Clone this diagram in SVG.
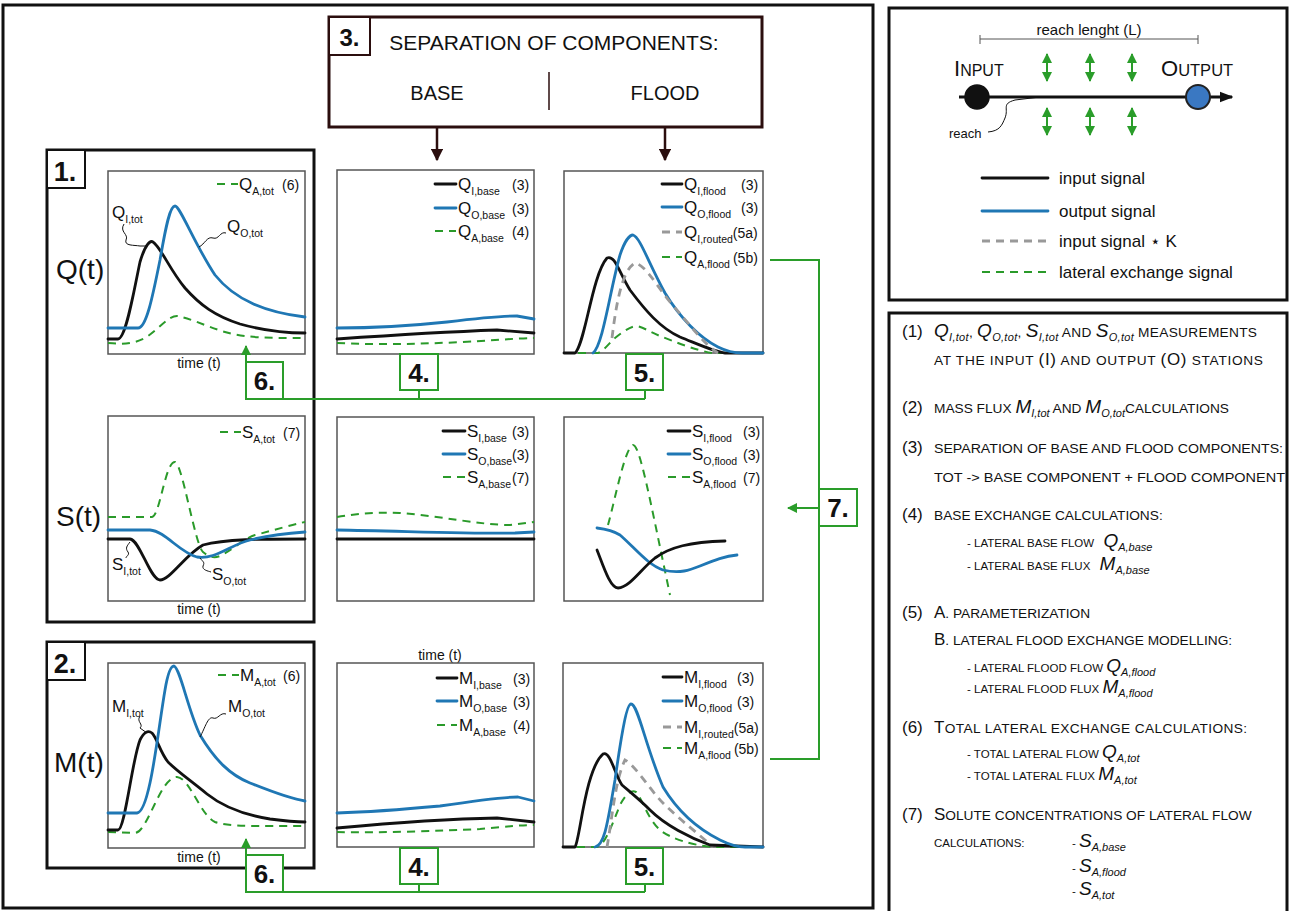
<svg xmlns="http://www.w3.org/2000/svg" width="1291" height="911" viewBox="0 0 1291 911">
<defs>
<style>
text{font-family:"Liberation Sans",Arial,sans-serif;fill:#111}
.frame{fill:none;stroke:#111;stroke-width:3}
.panel{fill:#fff;stroke:#555;stroke-width:1.5}
.blk{fill:none;stroke:#111;stroke-width:2.8;stroke-linecap:round;stroke-linejoin:round}
.blu{fill:none;stroke:#1f77b4;stroke-width:2.8;stroke-linecap:round;stroke-linejoin:round}
.grn{fill:none;stroke:#2a9a2a;stroke-width:2;stroke-dasharray:8,6}
.gry{fill:none;stroke:#999;stroke-width:2.8;stroke-dasharray:8,6}
.lead{fill:none;stroke:#111;stroke-width:1}
.gcon{fill:none;stroke:#2a9d2a;stroke-width:2}
.gbox{fill:#fff;stroke:#2a9d2a;stroke-width:2}
.num{font-weight:bold;font-size:26px;text-anchor:middle}
.lg{font-size:17px}
.sb{font-size:10.5px}
.pn{font-size:14px}
.ax{font-size:14px;text-anchor:middle}
.big{font-size:28px}
.rt{font-size:17px}
.sc{font-size:13.7px}
.ss{font-size:11.5px}
.it{font-style:italic;font-size:19px}
.its{font-style:italic;font-size:11px}
.cap{font-size:17px}
</style>
<marker id="ga" viewBox="0 0 10 10" refX="9" refY="5" markerWidth="5" markerHeight="5" orient="auto-start-reverse"><path d="M0,0 L10,5 L0,10 z" fill="#2a9d2a"/></marker>
<marker id="da" viewBox="0 0 10 10" refX="9" refY="5" markerWidth="5" markerHeight="5" orient="auto"><path d="M0,0 L10,5 L0,10 z" fill="#2b0e0e"/></marker>
<marker id="ka" viewBox="0 0 10 10" refX="9" refY="5" markerWidth="4.5" markerHeight="4.5" orient="auto"><path d="M0,1 L10,5 L0,9 z" fill="#111"/></marker>
</defs>
<rect width="1291" height="911" fill="#fff"/>

<rect class="frame" x="3" y="5" width="870" height="903"/>

<g id="box3">
<rect x="329" y="17" width="433" height="110" fill="#fff" stroke="#2b0e0e" stroke-width="3"/>
<rect x="329" y="17" width="41" height="38" fill="#fff" stroke="#2b0e0e" stroke-width="2"/>
<text x="349.5" y="46" font-size="24" font-weight="bold" text-anchor="middle">3.</text>
<text x="554" y="50" font-size="21" text-anchor="middle">SEPARATION OF COMPONENTS:</text>
<text x="437" y="100" font-size="20" text-anchor="middle">BASE</text>
<text x="665" y="100" font-size="20" text-anchor="middle">FLOOD</text>
<line x1="549" y1="72" x2="549" y2="110" stroke="#2b0e0e" stroke-width="1.5"/>
</g>

<g id="box1">
<rect class="frame" x="47" y="150" width="267" height="472"/>
<rect x="47" y="150" width="38" height="38" fill="#fff" stroke="#111" stroke-width="2"/>
<text x="65" y="181" font-size="27" font-weight="bold" text-anchor="middle">1.</text>
<text class="big" x="56" y="279">Q(t)</text>
<text class="big" x="56" y="526">S(t)</text>
</g>
<g id="box2">
<rect class="frame" x="47" y="642" width="267" height="226"/>
<rect x="47" y="642" width="38" height="38" fill="#fff" stroke="#111" stroke-width="2"/>
<text x="65" y="673" font-size="27" font-weight="bold" text-anchor="middle">2.</text>
<text class="big" x="54" y="772">M(t)</text>
</g>

<g id="panel-q-tot">
<rect class="panel" x="108" y="171" width="197" height="183"/>
<path class="grn" d="M108,343 C120,344 132,345 145,338 C158,330 168,316 177,316 C190,318 205,326 225,332 C245,338 270,338 305,338"/>
<path class="blk" d="M108,339 L118,339 C126,339 134,290 140,262 C145,245 150,240 153,242 C160,246 170,270 185,288 C200,305 215,316 240,324 C265,331 285,333 305,333"/>
<path class="blu" d="M108,328 L138,328 C146,328 152,300 160,260 C166,225 170,206 175,206 C180,206 195,245 215,275 C235,300 265,312 305,317"/>
<path class="lead" d="M124,224 C119,232 129,234 126,240 C124,246 134,245 140,246 L146,246"/>
<path class="lead" d="M226,233 C220,231 219,240 213,238 C207,236 205,244 199,247"/>
<text class="lg" x="112" y="218">Q<tspan class="sb" dy="5">I,tot</tspan></text>
<text class="lg" x="227" y="232">Q<tspan class="sb" dy="5">O,tot</tspan></text>
<line class="grn" x1="217" y1="184" x2="238" y2="184"/>
<text class="lg" x="239" y="190">Q<tspan class="sb" dy="5">A,tot</tspan></text>
<text class="pn" x="282" y="190">(6)</text>
<text class="ax" x="199" y="368">time (t)</text>
</g>

<g id="panel-s-tot">
<rect class="panel" x="108" y="416" width="197" height="185"/>
<path class="grn" d="M108,517 L152,517 C160,516 165,462 175,462 C182,462 195,545 203,552 C210,558 215,558 220,556 C235,548 245,538 255,535 C275,530 290,525 305,522"/>
<path class="blk" d="M108,539 L130,539 C140,540 150,580 160,580 C170,580 185,555 203,545 C225,539 260,539 305,539"/>
<path class="blu" d="M108,530 L150,530 C165,531 180,553 197,557 C215,560 230,545 250,540 C270,535 290,533 305,532"/>
<path class="lead" d="M130,542 C127,546 125,548 128,552 C130,555 126,556 126,558"/>
<path class="lead" d="M200,558 C203,562 205,562 203,566 C202,570 208,571 211,572"/>
<text class="lg" x="112" y="570">S<tspan class="sb" dy="5">I,tot</tspan></text>
<text class="lg" x="212" y="580">S<tspan class="sb" dy="5">O,tot</tspan></text>
<line class="grn" x1="220" y1="432" x2="241" y2="432"/>
<text class="lg" x="242" y="438">S<tspan class="sb" dy="5">A,tot</tspan></text>
<text class="pn" x="283" y="438">(7)</text>
<text class="ax" x="199" y="614">time (t)</text>
</g>

<g id="panel-m-tot">
<rect class="panel" x="108" y="663" width="197" height="185"/>
<path class="grn" d="M108,832 L135,833 C148,832 160,777 177,777 C190,778 200,815 215,822 C230,827 260,826 305,826"/>
<path class="blk" d="M108,830 L118,830 C125,830 132,760 140,740 C144,732 148,730 152,733 C157,738 160,752 168,762 C178,772 190,780 207,794 C222,806 245,815 270,819 C285,821 295,822 305,822"/>
<path class="blu" d="M108,813 L137,813 C150,812 158,730 165,690 C168,672 171,666 174,666 C180,668 188,710 200,735 C215,760 230,775 250,783 C270,791 290,799 305,801"/>
<path class="lead" d="M140,716 C136,722 144,724 140,728 L147,733"/>
<path class="lead" d="M226,714 C220,712 218,720 213,718 C208,716 205,728 200,737"/>
<text class="lg" x="112" y="712">M<tspan class="sb" dy="5">I,tot</tspan></text>
<text class="lg" x="228" y="712">M<tspan class="sb" dy="5">O,tot</tspan></text>
<line class="grn" x1="218" y1="675" x2="239" y2="675"/>
<text class="lg" x="240" y="681">M<tspan class="sb" dy="5">A,tot</tspan></text>
<text class="pn" x="283" y="681">(6)</text>
<text class="ax" x="199" y="862">time (t)</text>
</g>

<g id="panel-q-base">
<rect class="panel" x="337" y="170" width="197" height="184"/>
<path class="grn" d="M337,343 C380,345 420,344 463,342 C500,340 520,338 534,338"/>
<path class="blk" d="M337,339 C380,336 440,332 497,330 L534,333"/>
<path class="blu" d="M337,328 C370,328 400,327 447,322 C480,318 500,316 517,316 L534,319"/>
<line class="blk" x1="435" y1="184" x2="456" y2="184"/>
<line class="blu" x1="435" y1="208" x2="456" y2="208"/>
<line class="grn" x1="435" y1="231" x2="456" y2="231"/>
<text class="lg" x="458" y="190">Q<tspan class="sb" dy="5">I,base</tspan></text>
<text class="lg" x="458" y="214">Q<tspan class="sb" dy="5">O,base</tspan></text>
<text class="lg" x="458" y="237">Q<tspan class="sb" dy="5">A,base</tspan></text>
<text class="pn" x="512" y="190">(3)</text>
<text class="pn" x="512" y="214">(3)</text>
<text class="pn" x="512" y="237">(4)</text>
</g>

<g id="panel-q-flood">
<rect class="panel" x="564" y="171" width="199" height="182"/>
<path class="grn" d="M564,353 L598,353 C605,350 610,342 615,338 C625,330 632,326 637,326 C645,328 650,332 660,336 C675,342 695,350 712,353 L763,353"/>
<path class="blk" d="M564,353 L575,353 C585,345 592,275 607,258 C615,255 618,270 630,290 C645,310 660,328 680,337 C700,345 715,352 725,353 L763,353"/>
<path class="blu" d="M593,353 C603,345 610,290 620,255 C625,240 630,235 633,235 C640,237 648,262 665,293 C680,318 700,338 718,347 C728,352 735,353 742,353 L763,353"/>
<path class="gry" d="M612,338 C616,305 622,270 635,263 C645,265 655,283 670,302 C690,325 705,345 718,353"/>
<line class="blk" x1="662" y1="184" x2="682" y2="184"/>
<line class="blu" x1="662" y1="207" x2="682" y2="207"/>
<line class="gry" x1="662" y1="232" x2="682" y2="232" stroke-dasharray="7,5"/>
<line class="grn" x1="662" y1="257" x2="682" y2="257"/>
<text class="lg" x="684" y="190">Q<tspan class="sb" dy="5">I,flood</tspan></text>
<text class="lg" x="684" y="213">Q<tspan class="sb" dy="5">O,flood</tspan></text>
<text class="lg" x="684" y="238">Q<tspan class="sb" dy="5">I,routed</tspan><tspan class="pn" dy="-5">(5a)</tspan></text>
<text class="lg" x="684" y="263">Q<tspan class="sb" dy="5">A,flood</tspan><tspan class="pn" dy="-5" dx="3">(5b)</tspan></text>
<text class="pn" x="741" y="190">(3)</text>
<text class="pn" x="741" y="213">(3)</text>
</g>

<g id="panel-s-base">
<rect class="panel" x="337" y="417" width="197" height="184"/>
<path class="grn" d="M337,517 C360,513 380,512 400,513 C440,516 480,525 510,525 L534,522"/>
<path class="blu" d="M337,530 C400,531 480,534 515,533 L534,532"/>
<path class="blk" d="M337,539 L534,539"/>
<line class="blk" x1="443" y1="431" x2="465" y2="431"/>
<line class="blu" x1="443" y1="454" x2="465" y2="454"/>
<line class="grn" x1="443" y1="477" x2="465" y2="477"/>
<text class="lg" x="467" y="437">S<tspan class="sb" dy="5">I,base</tspan></text>
<text class="lg" x="467" y="460">S<tspan class="sb" dy="5">O,base</tspan></text>
<text class="lg" x="467" y="483">S<tspan class="sb" dy="5">A,base</tspan></text>
<text class="pn" x="512" y="437">(3)</text>
<text class="pn" x="512" y="460">(3)</text>
<text class="pn" x="512" y="483">(7)</text>
</g>

<g id="panel-s-flood">
<rect class="panel" x="564" y="417" width="199" height="184"/>
<path class="grn" d="M608,525 C615,500 625,447 633,445 C640,445 650,500 670,595"/>
<path class="blu" d="M597,528 C605,529 612,530 620,535 C635,548 648,565 663,570 C680,574 690,570 700,566 C715,560 725,556 737,555"/>
<path class="blk" d="M597,550 C603,565 610,588 618,588 C630,587 640,570 655,558 C670,547 690,542 725,541"/>
<line class="blk" x1="668" y1="431" x2="690" y2="431"/>
<line class="blu" x1="668" y1="454" x2="690" y2="454"/>
<line class="grn" x1="668" y1="477" x2="690" y2="477"/>
<text class="lg" x="692" y="437">S<tspan class="sb" dy="5">I,flood</tspan></text>
<text class="lg" x="692" y="460">S<tspan class="sb" dy="5">O,flood</tspan></text>
<text class="lg" x="692" y="483">S<tspan class="sb" dy="5">A,flood</tspan></text>
<text class="pn" x="743" y="437">(3)</text>
<text class="pn" x="743" y="460">(3)</text>
<text class="pn" x="743" y="483">(7)</text>
</g>

<g id="panel-m-base">
<text class="ax" x="440" y="660">time (t)</text>
<rect class="panel" x="337" y="663" width="197" height="184"/>
<path class="grn" d="M337,832 C380,833 440,831 480,829 C505,827 520,825 534,825"/>
<path class="blk" d="M337,828 C380,824 440,819 497,818 L534,822"/>
<path class="blu" d="M337,813 C370,812 397,810 440,806 C480,800 505,797 518,797 L534,801"/>
<line class="blk" x1="437" y1="678" x2="457" y2="678"/>
<line class="blu" x1="437" y1="701" x2="457" y2="701"/>
<line class="grn" x1="437" y1="725" x2="457" y2="725"/>
<text class="lg" x="459" y="684">M<tspan class="sb" dy="5">I,base</tspan></text>
<text class="lg" x="459" y="707">M<tspan class="sb" dy="5">O,base</tspan></text>
<text class="lg" x="459" y="731">M<tspan class="sb" dy="5">A,base</tspan></text>
<text class="pn" x="513" y="684">(3)</text>
<text class="pn" x="513" y="707">(3)</text>
<text class="pn" x="513" y="731">(4)</text>
</g>

<g id="panel-m-flood">
<rect class="panel" x="563" y="663" width="200" height="184"/>
<path class="grn" d="M563,847 L597,847 C605,845 612,825 620,805 C627,792 632,790 636,792 C643,800 647,818 660,830 C670,838 690,845 713,847 L763,847"/>
<path class="gry" d="M607,847 C612,820 615,780 625,760 C635,765 650,790 663,803 C680,820 700,835 713,847"/>
<path class="blk" d="M563,847 L575,847 C580,840 585,770 603,754 C610,750 615,775 622,785 C630,792 640,800 650,810 C665,825 690,838 710,845 L763,847"/>
<path class="blu" d="M595,847 C605,845 608,820 615,780 C622,730 627,704 631,704 C638,704 645,745 663,787 C680,815 700,830 720,840 C730,845 738,847 745,847 L763,847"/>
<line class="blk" x1="663" y1="677" x2="682" y2="677"/>
<line class="blu" x1="663" y1="701" x2="682" y2="701"/>
<line class="gry" x1="663" y1="727" x2="682" y2="727" stroke-dasharray="7,5"/>
<line class="grn" x1="663" y1="748" x2="682" y2="748"/>
<text class="lg" x="684" y="683">M<tspan class="sb" dy="5">I,flood</tspan></text>
<text class="lg" x="684" y="707">M<tspan class="sb" dy="5">O,flood</tspan></text>
<text class="lg" x="684" y="733">M<tspan class="sb" dy="5">I,routed</tspan><tspan class="pn" dy="-5">(5a)</tspan></text>
<text class="lg" x="684" y="754">M<tspan class="sb" dy="5">A,flood</tspan><tspan class="pn" dy="-5" dx="3">(5b)</tspan></text>
<text class="pn" x="737" y="683">(3)</text>
<text class="pn" x="737" y="707">(3)</text>
</g>

<g id="connectors">
<line x1="437" y1="127" x2="437" y2="160" stroke="#2b0e0e" stroke-width="2.5" marker-end="url(#da)"/>
<line x1="665" y1="127" x2="665" y2="160" stroke="#2b0e0e" stroke-width="2.5" marker-end="url(#da)"/>
<path class="gcon" d="M246,399 L246,346" marker-end="url(#ga)"/>
<path class="gcon" d="M246,399 L645,399 M419,390 L419,399 M645,390 L645,399"/>
<path class="gcon" d="M246,892 L246,839" marker-end="url(#ga)"/>
<path class="gcon" d="M246,892 L645,892 M419,884 L419,892 M645,884 L645,892"/>
<path class="gcon" d="M770,260 L819,260 L819,759 L770,759"/>
<path class="gcon" d="M819,508 L788,508" marker-end="url(#ga)"/>
</g>

<g id="n6a"><rect class="gbox" x="246" y="362" width="37" height="37"/><text class="num" x="264.5" y="390">6.</text></g>
<g id="n4a"><rect class="gbox" x="400" y="354" width="38" height="36"/><text class="num" x="419" y="382">4.</text></g>
<g id="n5a"><rect class="gbox" x="626" y="354" width="37" height="36"/><text class="num" x="644.5" y="382">5.</text></g>
<g id="n6b"><rect class="gbox" x="246" y="855" width="37" height="37"/><text class="num" x="264.5" y="883">6.</text></g>
<g id="n4b"><rect class="gbox" x="400" y="848" width="38" height="36"/><text class="num" x="419" y="876">4.</text></g>
<g id="n5b"><rect class="gbox" x="626" y="848" width="37" height="36"/><text class="num" x="644.5" y="876">5.</text></g>
<g id="n7"><rect class="gbox" x="819" y="489" width="38" height="37"/><text class="num" x="838" y="517">7.</text></g>

<g id="legend">
<rect class="frame" x="889" y="8" width="398" height="292"/>
<text x="1089" y="35" font-size="15" text-anchor="middle">reach lenght (L)</text>
<path d="M980,39 L1198,39 M980,35 L980,44 M1198,35 L1198,44" stroke="#555" stroke-width="1" fill="none"/>
<text x="954" y="76" font-size="22">I<tspan font-size="16">NPUT</tspan></text>
<text x="1161" y="76" font-size="22">O<tspan font-size="16.5">UTPUT</tspan></text>
<line x1="959" y1="97" x2="1232" y2="97" stroke="#111" stroke-width="3" marker-end="url(#ka)"/>
<circle cx="977" cy="97" r="12" fill="#111" stroke="#111" stroke-width="1.5"/>
<circle cx="1198" cy="97" r="12" fill="#3a78c2" stroke="#222" stroke-width="2"/>
<g stroke="#2a9d2a" stroke-width="2" fill="none">
<line x1="1047" y1="54" x2="1047" y2="81" marker-start="url(#ga)" marker-end="url(#ga)"/>
<line x1="1090" y1="54" x2="1090" y2="81" marker-start="url(#ga)" marker-end="url(#ga)"/>
<line x1="1132" y1="54" x2="1132" y2="81" marker-start="url(#ga)" marker-end="url(#ga)"/>
<line x1="1047" y1="108" x2="1047" y2="135" marker-start="url(#ga)" marker-end="url(#ga)"/>
<line x1="1090" y1="108" x2="1090" y2="135" marker-start="url(#ga)" marker-end="url(#ga)"/>
<line x1="1132" y1="108" x2="1132" y2="135" marker-start="url(#ga)" marker-end="url(#ga)"/>
</g>
<path class="lead" d="M988,132 C1000,131 1002,125 1005,118 C1009,108 1001,104 1015,100 L1040,97"/>
<text x="949" y="138" font-size="13">reach</text>
<line class="blk" x1="982" y1="178" x2="1048" y2="178" stroke-linecap="butt"/>
<line class="blu" x1="982" y1="211" x2="1048" y2="211" stroke-linecap="butt"/>
<line class="gry" x1="982" y1="241" x2="1048" y2="241" stroke-dasharray="10,8"/>
<line class="grn" x1="982" y1="272" x2="1048" y2="272" stroke-width="2.8" stroke-dasharray="10,8"/>
<text x="1059" y="184" font-size="17">input signal</text>
<text x="1059" y="217" font-size="17">output signal</text>
<text x="1059" y="247" font-size="17">input signal ⋆ K</text>
<text x="1059" y="278" font-size="17">lateral exchange signal</text>
</g>

<g id="steps">
<rect class="frame" x="889" y="313" width="398" height="600"/>
<text class="rt" x="902" y="337">(1)</text>
<text class="sc" x="934" y="337" textLength="323" lengthAdjust="spacing"><tspan class="it">Q</tspan><tspan class="its" dy="4">I,tot</tspan><tspan dy="-4">, </tspan><tspan class="it">Q</tspan><tspan class="its" dy="4">O,tot</tspan><tspan dy="-4">, </tspan><tspan class="it">S</tspan><tspan class="its" dy="4">I,tot</tspan><tspan dy="-4"> AND </tspan><tspan class="it">S</tspan><tspan class="its" dy="4">O,tot</tspan><tspan dy="-4"> MEASUREMENTS</tspan></text>
<text class="sc" x="934" y="365" textLength="329" lengthAdjust="spacing">AT THE INPUT <tspan class="cap">(I)</tspan> AND OUTPUT <tspan class="cap">(O)</tspan> STATIONS</text>

<text class="rt" x="902" y="413">(2)</text>
<text class="sc" x="934" y="413">MASS FLUX <tspan class="it">M</tspan><tspan class="its" dy="4">I,tot</tspan><tspan dy="-4"> AND </tspan><tspan class="it">M</tspan><tspan class="its" dy="4">O,tot</tspan><tspan dy="-4">CALCULATIONS</tspan></text>

<text class="rt" x="902" y="453">(3)</text>
<text class="sc" x="934" y="453" textLength="349" lengthAdjust="spacingAndGlyphs">SEPARATION OF BASE AND FLOOD COMPONENTS:</text>
<text class="sc" x="934" y="482" textLength="351" lengthAdjust="spacingAndGlyphs">TOT -&gt; BASE COMPONENT + FLOOD COMPONENT</text>

<text class="rt" x="902" y="520">(4)</text>
<text class="sc" x="934" y="520">BASE EXCHANGE CALCULATIONS:</text>
<text class="ss" x="967" y="547">- LATERAL BASE FLOW <tspan class="it" dx="6">Q</tspan><tspan class="its" dy="4">A,base</tspan></text>
<text class="ss" x="967" y="570">- LATERAL BASE FLUX <tspan class="it" dx="6">M</tspan><tspan class="its" dy="4">A,base</tspan></text>

<text class="rt" x="902" y="618">(5)</text>
<text class="sc" x="934" y="618"><tspan class="cap">A</tspan>. PARAMETERIZATION</text>
<text class="sc" x="934" y="645"><tspan class="cap">B</tspan>. LATERAL FLOOD EXCHANGE MODELLING:</text>
<text class="ss" x="967" y="672">- LATERAL FLOOD FLOW <tspan class="it">Q</tspan><tspan class="its" dy="4">A,flood</tspan></text>
<text class="ss" x="967" y="693">- LATERAL FLOOD FLUX <tspan class="it">M</tspan><tspan class="its" dy="4">A,flood</tspan></text>

<text class="rt" x="902" y="733">(6)</text>
<text class="sc" x="934" y="733" textLength="313" lengthAdjust="spacing"><tspan class="cap">T</tspan>OTAL LATERAL EXCHANGE CALCULATIONS:</text>
<text class="ss" x="967" y="758">- TOTAL LATERAL FLOW <tspan class="it">Q</tspan><tspan class="its" dy="4">A,tot</tspan></text>
<text class="ss" x="967" y="780">- TOTAL LATERAL FLUX <tspan class="it">M</tspan><tspan class="its" dy="4">A,tot</tspan></text>

<text class="rt" x="902" y="820">(7)</text>
<text class="sc" x="934" y="820"><tspan class="cap">S</tspan>OLUTE CONCENTRATIONS OF LATERAL FLOW</text>
<text class="ss" x="934" y="847">CALCULATIONS:</text>
<text class="ss" x="1072" y="847">- <tspan class="it">S</tspan><tspan class="its" dy="4">A,base</tspan></text>
<text class="ss" x="1072" y="872">- <tspan class="it">S</tspan><tspan class="its" dy="4">A,flood</tspan></text>
<text class="ss" x="1072" y="895">- <tspan class="it">S</tspan><tspan class="its" dy="4">A,tot</tspan></text>
</g>
</svg>
